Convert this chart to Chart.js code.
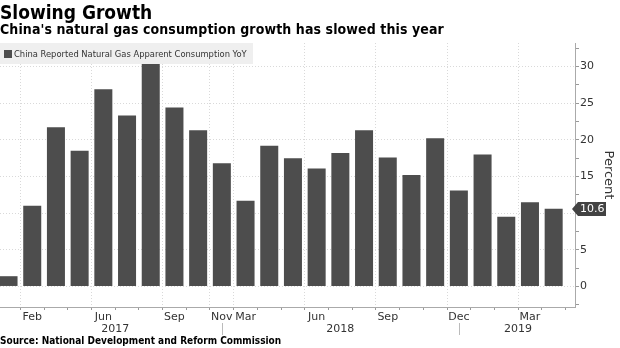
<!DOCTYPE html>
<html>
<head>
<meta charset="utf-8">
<script src="https://cdn.jsdelivr.net/npm/chart.js@4/dist/chart.umd.min.js"></script>
<style>
  html, body { margin: 0; padding: 0; background: #fff; }
  #wrap { position: relative; width: 620px; height: 348px; overflow: hidden; }
  #grafico { position: absolute; left: 0; top: 0; }
  .txt { position: absolute; left: 0; white-space: nowrap; color: #000; font-family: 'DejaVu Sans Condensed', 'DejaVu Sans', sans-serif; font-weight: bold; }
  #titulo { top: 3px; font-size: 19px; line-height: 19px; }
  #subtitulo { top: 22px; font-size: 14px; line-height: 14px; letter-spacing: 0.1px; }
  #fuente { top: 336px; font-size: 10px; line-height: 10px; }
  #leyenda { position: absolute; left: 0; top: 43px; height: 21px; padding: 0 6px 0 4px; background: #efefef;
    font-family: 'DejaVu Sans Condensed', sans-serif; font-size: 9.3px; line-height: 21px; color: #333; white-space: nowrap; }
  #leyenda span { display: inline-block; width: 8px; height: 8px; background: #4d4d4d; margin-right: 2px; vertical-align: -0.5px; }
</style>
</head>
<body>
<div id="wrap">
  <canvas id="grafico" width="620" height="348"></canvas>
  <div id="titulo" class="txt">Slowing Growth</div>
  <div id="subtitulo" class="txt">China's natural gas consumption growth has slowed this year</div>
  <div id="leyenda"></div>
  <div id="fuente" class="txt">Source: National Development and Reform Commission</div>
</div>
<script>
// ---------------- DATOS ----------------
const serieNombre = 'China Reported Natural Gas Apparent Consumption YoY';
// una etiqueta por barra, vacia cuando no se muestra
const etiquetasMes = ['', 'Feb', '', '', 'Jun', '', '', 'Sep', '', 'Nov',
                      'Mar', '', '', 'Jun', '', '', 'Sep', '', '', 'Dec',
                      '', '', 'Mar', ''];
const valores = [1.4, 11.0, 21.7, 18.5, 26.9, 23.3, 30.4, 24.4, 21.3, 16.8,
                 11.7, 19.2, 17.5, 16.1, 18.2, 21.3, 17.6, 15.2, 20.2, 13.1,
                 18.0, 9.5, 11.5, 10.6];
const anios = ['2017', '2018', '2019'];
const cortesAnio = [0, 9, 19, 24];          // limites de cada año (en indice de barra)
const ticksY = [0, 5, 10, 15, 20, 25, 30];

document.getElementById('leyenda').innerHTML = '<span></span>' + serieNombre;

Chart.defaults.font.family = "'DejaVu Sans', sans-serif";
Chart.defaults.color = '#333';

// años y separadores debajo del eje x, y la etiqueta del ultimo valor
const extras = {
  id: 'extras',
  afterDraw(chart) {
    const ctx = chart.ctx;
    const xs = chart.scales.x;
    const ys = chart.scales.y;
    ctx.save();
    ctx.strokeStyle = '#bbb';
    ctx.lineWidth = 1;
    for (let i = 1; i < cortesAnio.length - 1; i++) {
      let px = Math.round(xs.getPixelForValue(cortesAnio[i])) + 0.5;
      ctx.beginPath();
      ctx.moveTo(px, xs.top + 16);
      ctx.lineTo(px, xs.top + 28);
      ctx.stroke();
    }
    ctx.fillStyle = '#333';
    ctx.font = "11px 'DejaVu Sans'";
    ctx.textAlign = 'center';
    ctx.textBaseline = 'middle';
    for (let i = 0; i < anios.length; i++) {
      let centro = (cortesAnio[i] + cortesAnio[i + 1]) / 2;
      ctx.fillText(anios[i], xs.getPixelForValue(centro), xs.top + 22);
    }
    // etiqueta del ultimo dato
    let ultimo = valores[valores.length - 1];
    let py = Math.round(ys.getPixelForValue(ultimo));
    let x0 = ys.left;
    ctx.fillStyle = '#424242';
    ctx.beginPath();
    ctx.moveTo(x0 - 3, py);
    ctx.lineTo(x0 + 3, py - 7);
    ctx.lineTo(x0 + 31, py - 7);
    ctx.lineTo(x0 + 31, py + 7);
    ctx.lineTo(x0 + 3, py + 7);
    ctx.closePath();
    ctx.fill();
    ctx.fillStyle = '#fff';
    ctx.textAlign = 'left';
    ctx.font = "11px 'DejaVu Sans'";
    ctx.fillText(ultimo.toFixed(1), x0 + 5, py + 0.5);
    ctx.restore();
  }
};

const datos = {
  datasets: [{
    label: serieNombre,
    data: valores.map((v, i) => ({ x: i, y: v })),
    backgroundColor: '#4d4d4d',
    borderWidth: 0,
    barPercentage: 0.95,
    categoryPercentage: 0.8
  }]
};

const config = {
  type: 'bar',
  data: datos,
  options: {
    responsive: false,
    animation: false,
    layout: { padding: { top: 43, left: 0, right: 0, bottom: 0 } },
    plugins: { legend: { display: false }, tooltip: { enabled: false } },
    scales: {
      x: {
        type: 'linear',
        min: -0.36,
        max: 23.9,
        offset: false,
        afterFit: (s) => { s.height = 41; },
        afterBuildTicks: (s) => { s.ticks = valores.map((v, i) => ({ value: i })); },
        ticks: {
          autoSkip: false,
          maxRotation: 0,
          padding: 1,
          font: { size: 11 },
          color: '#333',
          callback: (v) => etiquetasMes[v] || ''
        },
        grid: {
          color: (c) => (c.tick && etiquetasMes[c.tick.value]) ? '#d9d9d9' : 'rgba(0,0,0,0)',
          tickColor: '#999',
          tickLength: 3
        },
        border: { display: true, color: '#aaa', dash: [1, 2] }
      },
      y: {
        position: 'right',
        min: -2.8,
        max: 33.2,
        afterFit: (s) => { s.width = 45; },
        afterBuildTicks: (s) => {
          let t = [];
          for (let v = -2.5; v <= 32.5; v += 2.5) t.push({ value: v });
          s.ticks = t;
        },
        ticks: {
          padding: 1,
          font: { size: 11 },
          color: '#333',
          callback: (v) => ticksY.includes(v) ? String(v) : ''
        },
        grid: {
          color: (c) => (c.tick && ticksY.includes(c.tick.value)) ? '#d9d9d9' : 'rgba(0,0,0,0)',
          tickColor: '#999',
          tickLength: 4
        },
        border: { display: true, color: '#aaa', dash: [1, 2] },
        title: { display: true, text: 'Percent', font: { size: 13 }, color: '#333' }
      }
    }
  },
  plugins: [extras]
};

new Chart(document.getElementById('grafico'), config);
</script>
</body>
</html>
